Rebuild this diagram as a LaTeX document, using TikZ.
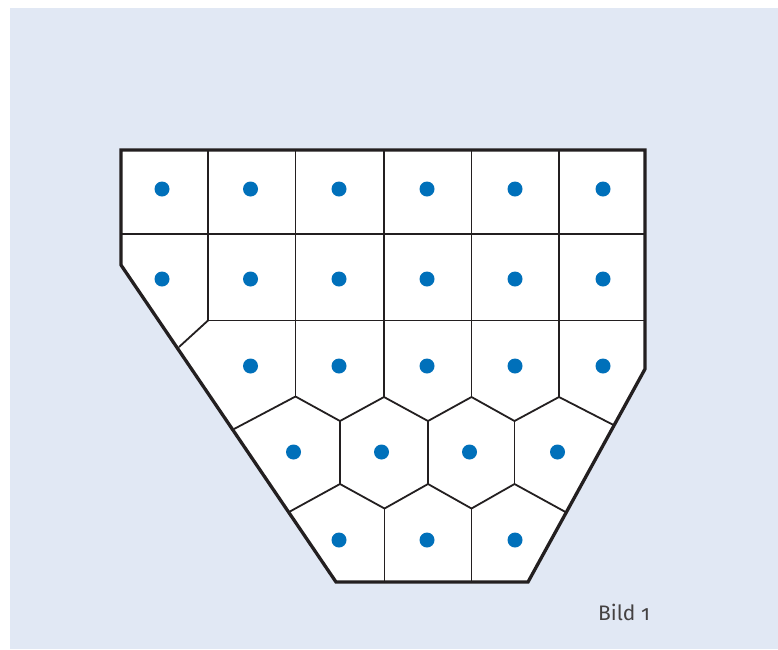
\documentclass[tikz,border=0pt]{standalone}
\usepackage{fontspec}
\newfontfamily\labfont{Fira Sans}[Numbers=OldStyle]
\definecolor{bgblue}{HTML}{E1E8F4}
\definecolor{inkline}{HTML}{231F20}
\definecolor{dotblue}{HTML}{0070BA}
\tikzset{
  outline/.style={draw=inkline,line width=3.3pt,line join=miter},
  cellline/.style={draw=inkline,line width=1.8pt},
  seed/.style={circle,fill=dotblue,minimum size=15pt,inner sep=0pt},
  caption/.style={font=\labfont\fontsize{21}{21}\selectfont,text=inkline!85,anchor=base west,inner sep=0pt}
}
\begin{document}
\begin{tikzpicture}[x=1pt,y=-1pt]
\useasboundingbox (0,0) rectangle (778,649);
\fill[bgblue] (10,8) rectangle (778,649);
% outer boundary corners
\coordinate (tl) at (121,150);
\coordinate (tr) at (645,150);
\coordinate (rk) at (645,369);
\coordinate (br) at (528,582);
\coordinate (bl) at (336,582);
\coordinate (lk) at (121,265);
\fill[white] (tl) -- (tr) -- (rk) -- (br) -- (bl) -- (lk) -- cycle;
% grid rows 1-3
\foreach \x/\n in {208/a,295.5/b,384/c,471.5/d,559/e}{
  \coordinate (t\n) at (\x,150);
}
\coordinate (m0) at (121,234);
\coordinate (m6) at (645,234);
\coordinate (h1) at (208,320.5);
\coordinate (h6) at (645,320.5);
\coordinate (dg) at (179,347);
\coordinate (p1) at (295.5,396.5);
\coordinate (p2) at (384,397);
\coordinate (p3) at (471.5,397);
\coordinate (p4) at (559,397);
\coordinate (q0) at (234,429);
\coordinate (q1) at (340,421);
\coordinate (q2) at (428,421);
\coordinate (q3) at (514.5,421);
\coordinate (q4) at (613.5,425);
\coordinate (r1) at (340,484);
\coordinate (r2) at (428,484);
\coordinate (r3) at (514.5,484);
\coordinate (s0) at (289,512);
\coordinate (s1) at (384.5,508.5);
\coordinate (s2) at (471.5,508.5);
\coordinate (s3) at (565.5,512);
\coordinate (u1) at (384.5,582);
\coordinate (u2) at (471.5,582);
\begin{scope}[cellline]
\draw (ta) -- (h1) -- (dg);
\draw (m0) -- (m6);
\draw (h1) -- (h6);
\draw (tb) -- (p1);
\draw (tc) -- (p2);
\draw (td) -- (p3);
\draw (te) -- (p4);
\draw (q0) -- (p1) -- (q1) -- (p2) -- (q2) -- (p3) -- (q3) -- (p4) -- (q4);
\draw (q1) -- (r1);
\draw (q2) -- (r2);
\draw (q3) -- (r3);
\draw (s0) -- (r1) -- (s1) -- (r2) -- (s2) -- (r3) -- (s3);
\draw (s1) -- (u1);
\draw (s2) -- (u2);
\end{scope}
\draw[outline] (tl) -- (tr) -- (rk) -- (br) -- (bl) -- (lk) -- cycle;
% seeds
\foreach \x [count=\i] in {162,250.5,339,427,515,603}{
  \node[seed] (a\i) at (\x,189) {};
  \node[seed] (b\i) at (\x,279) {};
}
\foreach \x [count=\i] in {250.5,339,427,515,603}{
  \node[seed] (c\i) at (\x,366) {};
}
\foreach \x [count=\i] in {293.5,381.5,469.5,557.5}{
  \node[seed] (d\i) at (\x,452) {};
}
\foreach \x [count=\i] in {339,427,515}{
  \node[seed] (e\i) at (\x,540) {};
}
\node[caption] (cap) at (598,620) {Bild 1};
\end{tikzpicture}
\end{document}
